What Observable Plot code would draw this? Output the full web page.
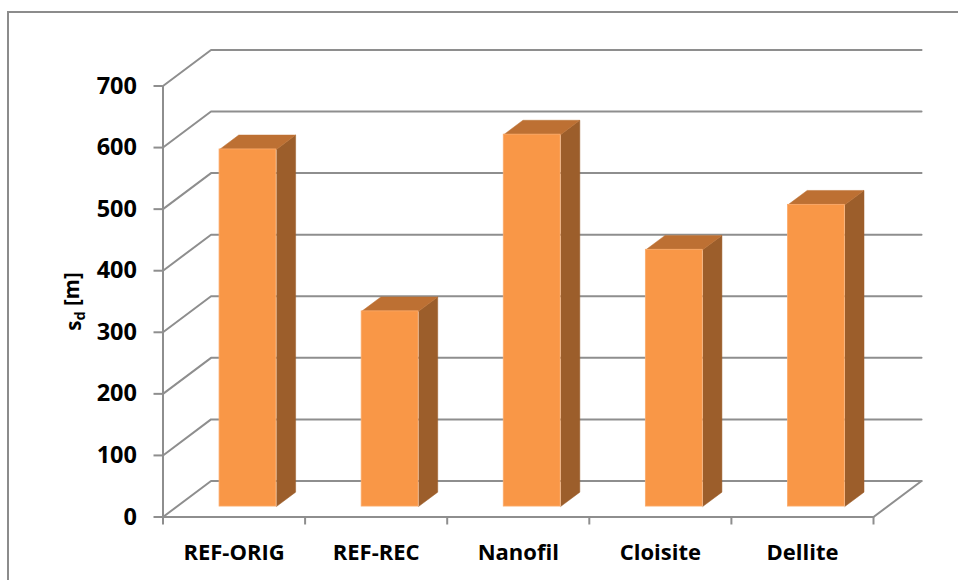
<!DOCTYPE html>
<html>
<head>
<meta charset="utf-8">
<script src="https://cdn.jsdelivr.net/npm/d3@7"></script>
<script src="https://cdn.jsdelivr.net/npm/@observablehq/plot@0.6"></script>
<style>
html,body{margin:0;padding:0;background:#fff;overflow:hidden;width:958px;height:580px}
#frame{position:absolute;left:7px;top:11px;width:1000px;height:700px;border:2px solid #8c8c8c;box-sizing:border-box}
#chart{position:absolute;left:0;top:0}
</style>
</head>
<body>
<div id="frame"></div>
<div id="chart"></div>
<script>
const categories = ["REF-ORIG","REF-REC","Nanofil","Cloisite","Dellite"];
const values = [580,317,604,417,490];
const ticksY = [0,100,200,300,400,500,600,700];
const slots = [0,1,2,3,4,5];
const grey = "#8e8e8e";
const colors = {front:"#f99747", top:"#bd7033", side:"#9c5e2b"};
const font = "'Open Sans', Lato, sans-serif";

// oblique projection: one unit of depth, in scale units
const depthX = 48/142, depthY = 58.5;
const barFront = 0.29, barBack = 0.69, barGap = 0.3;
const P = (c,v,d)=>({x:c+d*depthX, y:v+d*depthY});

const gridLines = ticksY.flatMap(t=>[
  {t,...P(0,t,0)},{t,...P(0,t,1)},{t,...P(5,t,1)}
]);
const floorEdge = [P(5,0,1),P(5,0,0)];

const bars = categories.map((name,i)=>({name,v:values[i],c0:i+barGap,c1:i+1-barGap}));
const sideFaces = bars.flatMap(b=>[
  {k:b.name,...P(b.c1,0,barFront)},{k:b.name,...P(b.c1,0,barBack)},
  {k:b.name,...P(b.c1,b.v,barBack)},{k:b.name,...P(b.c1,b.v,barFront)}
]);
const topFaces = bars.flatMap(b=>[
  {k:b.name,...P(b.c0,b.v,barFront)},{k:b.name,...P(b.c0,b.v,barBack)},
  {k:b.name,...P(b.c1,b.v,barBack)},{k:b.name,...P(b.c1,b.v,barFront)}
]);
const fronts = bars.map(b=>{
  const lo=P(b.c0,0,barFront), hi=P(b.c1,b.v,barFront);
  return {x1:lo.x,x2:hi.x,y1:lo.y,y2:hi.y};
});

const plot = Plot.plot({
  width:958, height:580,
  marginLeft:162.5, marginRight:85, marginTop:85.5, marginBottom:63.5,
  x:{domain:[0,5]},
  y:{domain:[0,700]},
  style:{fontFamily:font,fontWeight:700,fontSize:"21px",color:"#000",background:"transparent",overflow:"visible"},
  marks:[
    Plot.line(gridLines,{x:"x",y:"y",z:"t",stroke:grey,strokeWidth:2}),
    Plot.line(floorEdge,{x:"x",y:"y",stroke:grey,strokeWidth:2}),
    Plot.ruleX([0],{y1:0,y2:700,stroke:grey,strokeWidth:2}),
    Plot.ruleY([0],{x1:0,x2:5,stroke:grey,strokeWidth:2}),
    Plot.axisY({ticks:ticksY,tickSize:9,tickPadding:17,stroke:grey,strokeWidth:2,fill:"#000",label:null,fontSize:23.5,fontWeight:700}),
    Plot.axisX({ticks:slots,tickSize:8,tickFormat:()=>"",stroke:grey,strokeWidth:2,label:null}),
    Plot.text(categories,{x:(d,i)=>i+0.5,y:0,text:d=>d,dy:36,fill:"#000",fontSize:22,fontWeight:700}),
    Plot.line(sideFaces,{x:"x",y:"y",z:"k",fill:colors.side,stroke:colors.side,strokeWidth:0.5}),
    Plot.line(topFaces,{x:"x",y:"y",z:"k",fill:colors.top,stroke:colors.top,strokeWidth:0.5}),
    Plot.rect(fronts,{x1:"x1",x2:"x2",y1:"y1",y2:"y2",fill:colors.front,stroke:"#fbab6b",strokeWidth:0.8}),
    Plot.text(["sd [m]"],{frameAnchor:"left",y:350,dx:-88.5,rotate:-90,textAnchor:"middle",fill:"#000",fontSize:20.5,fontWeight:700,className:"ylabel"})
  ]
});
document.getElementById("chart").appendChild(plot);
// subscript in the axis title
const t = d3.select(plot).select(".ylabel text");
if(!t.empty()){
  t.text(null);
  t.append("tspan").text("s");
  t.append("tspan").attr("dy","0.3em").attr("font-size","14.5").text("d");
  t.append("tspan").attr("dy","-0.3em").text(" [m]");
}
</script>
</body>
</html>
